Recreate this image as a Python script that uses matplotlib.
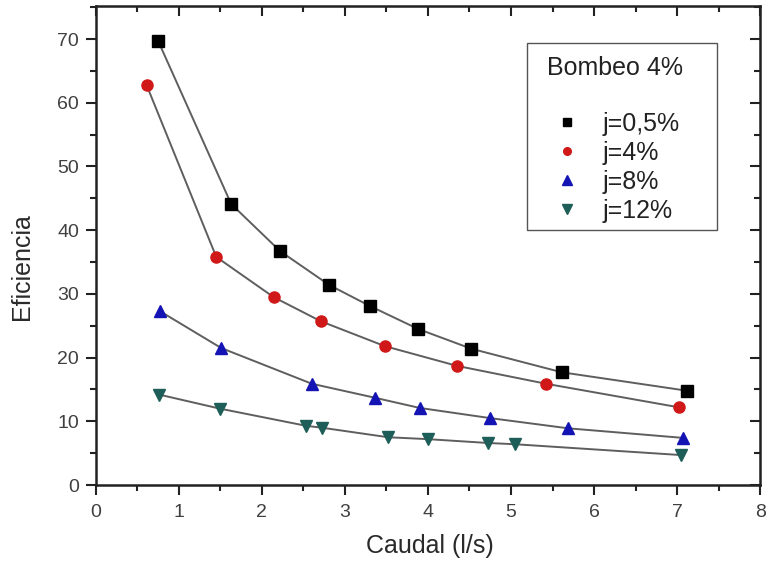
import matplotlib
matplotlib.use('Agg')
import matplotlib.pyplot as plt
from matplotlib.lines import Line2D
from matplotlib.patches import Rectangle
from matplotlib.ticker import MultipleLocator

plt.rcParams['font.family'] = ['Liberation Sans', 'DejaVu Sans']

# Datos (Caudal l/s, Eficiencia)
x_05 = [0.75, 1.63, 2.22, 2.81, 3.30, 3.88, 4.52, 5.61, 7.12]
y_05 = [69.7, 44.1, 36.7, 31.4, 28.1, 24.5, 21.4, 17.7, 14.8]

x_4 = [0.61, 1.45, 2.14, 2.71, 3.48, 4.35, 5.42, 7.02]
y_4 = [62.8, 35.8, 29.5, 25.7, 21.8, 18.7, 15.9, 12.2]

x_8 = [0.77, 1.51, 2.60, 3.36, 3.90, 4.75, 5.69, 7.07]
y_8 = [27.3, 21.5, 15.9, 13.7, 12.1, 10.5, 8.9, 7.4]

x_12 = [0.76, 1.49, 2.53, 2.72, 3.52, 4.00, 4.72, 5.05, 7.05]
y_12 = [14.2, 12.0, 9.3, 9.0, 7.5, 7.2, 6.6, 6.4, 4.7]

etiquetas = ['j=0,5%', 'j=4%', 'j=8%', 'j=12%']
marcadores = ['s', 'o', '^', 'v']
colores = ['#000000', '#d01818', '#1414b4', '#1e5e58']
series = [(x_05, y_05), (x_4, y_4), (x_8, y_8), (x_12, y_12)]

fig = plt.figure(figsize=(7.67, 5.63), dpi=100)
ax = fig.add_axes([0.125, 0.1385, 0.866, 0.851])

handles = []
for (xs, ys), et, m, c in zip(series, etiquetas, marcadores, colores):
    ax.plot(xs, ys, color='#5e5e5e', lw=1.4, zorder=2)
    ms = 9 if m in ('^', 'v') else 8
    ax.plot(xs, ys, linestyle='none', marker=m, color=c, ms=ms,
            markeredgecolor=c, zorder=3)
    handles.append(Line2D([], [], linestyle='none', marker=m, color=c,
                          ms=ms - 2.5, label=et))

ax.set_xlim(0, 8)
ax.set_ylim(0, 75.2)
ax.xaxis.set_major_locator(MultipleLocator(1))
ax.xaxis.set_minor_locator(MultipleLocator(0.5))
ax.yaxis.set_major_locator(MultipleLocator(10))
ax.yaxis.set_minor_locator(MultipleLocator(5))

for s in ax.spines.values():
    s.set_linewidth(1.8)
    s.set_color('#222222')

ax.tick_params(which='both', direction='out', top=False, right=False,
               colors='#222222', labelcolor='#404040', labelsize=14, width=1.5)
ax.tick_params(which='major', length=7)
ax.tick_params(which='minor', length=4)
ax.tick_params(axis='x', which='major', pad=7)
ax.tick_params(axis='y', which='major', pad=5)

# ticks hacia adentro en los ejes superior y derecho
ax2 = ax.secondary_xaxis('top')
ax2.xaxis.set_major_locator(MultipleLocator(1))
ax2.xaxis.set_minor_locator(MultipleLocator(0.5))
ax2.tick_params(which='both', direction='in', labeltop=False, width=1.5, colors='#222222')
ax2.tick_params(which='major', length=7)
ax2.tick_params(which='minor', length=4)
ax3 = ax.secondary_yaxis('right')
ax3.yaxis.set_major_locator(MultipleLocator(10))
ax3.yaxis.set_minor_locator(MultipleLocator(5))
ax3.tick_params(which='both', direction='in', labelright=False, width=1.5, colors='#222222')
ax3.tick_params(which='major', length=7)
ax3.tick_params(which='minor', length=4)

ax.set_xlabel('Caudal (l/s)', fontsize=18, color='#2a2a2a')
ax.set_ylabel('Eficiencia', fontsize=18, color='#2a2a2a')
ax.xaxis.set_label_coords(0.503, -0.102)
ax.yaxis.set_label_coords(-0.093, 0.455)

# leyenda: marco, titulo y entradas
ax.add_patch(Rectangle((0.649, 0.532), 0.286, 0.391, transform=ax.transAxes,
                       fill=True, facecolor='white', edgecolor='#555555',
                       lw=1.0, zorder=4))
ax.text(0.782, 0.871, 'Bombeo 4%', transform=ax.transAxes, ha='center',
        va='center', fontsize=18, color='#222222', zorder=5)
leg = ax.legend(handles=handles, loc='center left',
                bbox_to_anchor=(0.683, 0.663), fontsize=18, frameon=False,
                borderpad=0, labelspacing=0.2, handletextpad=0.74,
                handlelength=1.4, borderaxespad=0)
leg.set_zorder(6)
for t in leg.get_texts():
    t.set_color('#222222')

fig.savefig('out.png', dpi=100)
